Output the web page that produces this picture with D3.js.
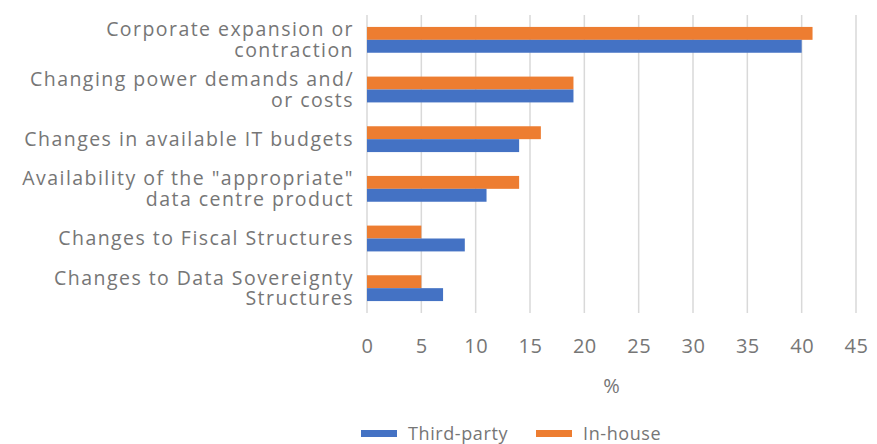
<!DOCTYPE html>
<html>
<head>
<meta charset="utf-8">
<script src="https://cdn.jsdelivr.net/npm/d3@7"></script>
<style>
  html, body { margin: 0; padding: 0; background: #fff; }
  svg { display: block; }
  text { font-family: "Open Sans", "Noto Sans", sans-serif; fill: #767676; }
</style>
</head>
<body>
<svg id="chart" width="877" height="444"></svg>
<script>
// Drivers, listed top to bottom
const categories = [
  ["Corporate expansion or", "contraction"],
  ["Changing power demands and/", "or costs"],
  ["Changes in available IT budgets"],
  ["Availability of the \"appropriate\"", "data centre product"],
  ["Changes to Fiscal Structures"],
  ["Changes to Data Sovereignty", "Structures"]
];
const thirdParty = [40, 19, 14, 11, 9, 7];
const inHouse    = [41, 19, 16, 14, 5, 5];
const xTicks = [0, 5, 10, 15, 20, 25, 30, 35, 40, 45];
const seriesNames = ["Third-party", "In-house"];
const colors = { "Third-party": "#4472C4", "In-house": "#ED7D31" };

const svg = d3.select("#chart");
const margin = { left: 367, right: 21, top: 15, bottom: 131 };
const W = 877, H = 444;

const x = d3.scaleLinear().domain([0, 45]).range([margin.left, W - margin.right]);
const y = d3.scaleBand().domain(d3.range(categories.length))
  .range([margin.top, H - margin.bottom]).paddingInner(0.48).paddingOuter(0.24);
// within each band: In-house on top, Third-party beneath
const sub = d3.scaleBand().domain(["In-house", "Third-party"]).range([0, y.bandwidth()]);

// vertical gridlines
svg.append("g").selectAll("line").data(xTicks).join("line")
  .attr("x1", d => x(d)).attr("x2", d => x(d))
  .attr("y1", margin.top).attr("y2", H - margin.bottom)
  .attr("stroke", "#d9d9d9").attr("stroke-width", 1.5);

// bars
const rows = svg.append("g").selectAll("g").data(categories).join("g")
  .attr("transform", (d, i) => `translate(0,${y(i)})`);
rows.append("rect")
  .attr("x", x(0)).attr("y", sub("In-house"))
  .attr("width", (d, i) => x(inHouse[i]) - x(0)).attr("height", sub.bandwidth())
  .attr("fill", colors["In-house"]);
rows.append("rect")
  .attr("x", x(0)).attr("y", sub("Third-party"))
  .attr("width", (d, i) => x(thirdParty[i]) - x(0)).attr("height", sub.bandwidth())
  .attr("fill", colors["Third-party"]);

// category labels, one text element per line
const lh = 21;
rows.each(function(lines) {
  const g = d3.select(this);
  const cy = y.bandwidth() / 2;
  const start = cy - (lines.length - 1) * lh / 2;
  lines.forEach((ln, k) => {
    g.append("text")
      .attr("text-anchor", "end")
      .attr("font-size", 19.5)
      .attr("letter-spacing", "1.45px")
      .attr("x", 354)
      .attr("y", start + k * lh)
      .attr("dy", "0.35em")
      .text(ln);
  });
});

// x axis tick labels
const xAxis = d3.axisBottom(x).tickValues(xTicks).tickSize(0).tickPadding(0);
const ax = svg.append("g").attr("transform", `translate(0,${H - margin.bottom})`).call(xAxis);
ax.select(".domain").remove();
ax.selectAll("text")
  .attr("y", 0).attr("dy", 0)
  .attr("transform", "translate(0,40)")
  .attr("font-size", 20).attr("letter-spacing", "0.5px")
  .attr("font-family", null).attr("fill", null);

// axis title
svg.append("text").attr("x", (x(0) + x(45)) / 2).attr("y", 393)
  .attr("text-anchor", "middle").attr("font-size", 20).text("%");

// legend
const legend = svg.append("g");
const legendX = [361, 536];
seriesNames.forEach((s, i) => {
  legend.append("rect").attr("x", legendX[i]).attr("y", 430)
    .attr("width", 36).attr("height", 7).attr("fill", colors[s]);
  legend.append("text").attr("x", legendX[i] + 47).attr("y", 440)
    .attr("font-size", 18).attr("letter-spacing", "0.6px").text(s);
});
</script>
</body>
</html>
